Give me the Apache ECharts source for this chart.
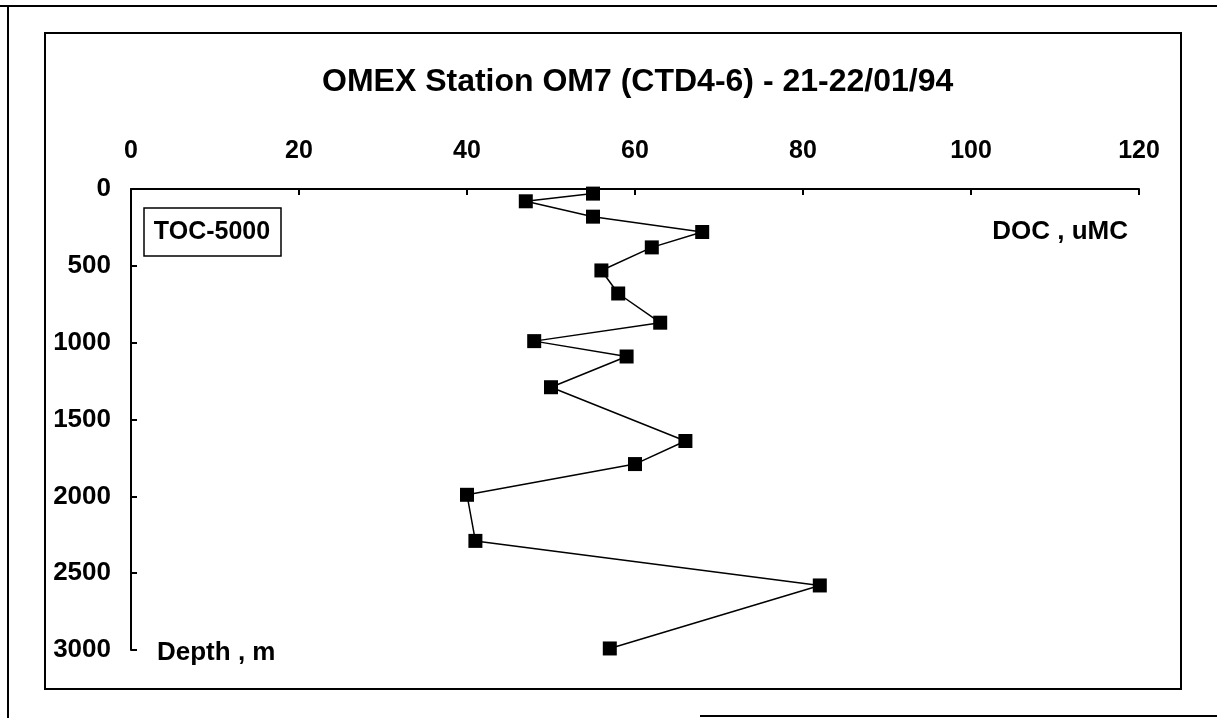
<!DOCTYPE html>
<html>
<head>
<meta charset="utf-8">
<script src="https://cdn.jsdelivr.net/npm/echarts@6/dist/echarts.min.js"></script>
<style>html,body{margin:0;padding:0;background:#fff;}#chart{width:1217px;height:718px;}</style>
</head>
<body>
<div id="chart"></div>
<script>
const titleText = 'OMEX Station OM7 (CTD4-6) - 21-22/01/94';
const docValues = [55, 47, 55, 68, 62, 56, 58, 63, 48, 59, 50, 66, 60, 40, 41, 82, 57];
const depthValues = [30, 80, 180, 280, 380, 530, 680, 870, 990, 1090, 1290, 1640, 1790, 1990, 2290, 2580, 2990];
const xTicks = [0, 20, 40, 60, 80, 100, 120];
const yTicks = [0, 500, 1000, 1500, 2000, 2500, 3000];
const xName = 'DOC , uMC';
const yName = 'Depth , m';
const boxLabel = 'TOC-5000';

const FONT = '"Liberation Sans", Arial, sans-serif';
const chart = echarts.init(document.getElementById('chart'));
const points = docValues.map((v, i) => [v, depthValues[i]]);

chart.setOption({
  backgroundColor: '#fff',
  animation: false,
  title: {
    text: titleText, left: 322, top: 66, padding: 0,
    textStyle: { fontFamily: FONT, fontWeight: 'bold', fontSize: 32, color: '#000' }
  },
  grid: { left: 131, top: 189, right: 78, bottom: 68, containLabel: false },
  xAxis: {
    type: 'value', position: 'top', min: xTicks[0], max: xTicks[xTicks.length - 1], interval: 20,
    axisLine: { show: true, lineStyle: { color: '#000', width: 2 } },
    axisTick: { show: true, inside: true, length: 6, lineStyle: { color: '#000', width: 2 } },
    axisLabel: { margin: 25, fontFamily: FONT, fontWeight: 'bold', fontSize: 25, color: '#000', formatter: v => String(v) },
    splitLine: { show: false }
  },
  yAxis: {
    type: 'value', inverse: true, min: yTicks[0], max: yTicks[yTicks.length - 1], interval: 500,
    axisLine: { show: true, lineStyle: { color: '#000', width: 2 } },
    axisTick: { show: true, inside: true, length: 6, lineStyle: { color: '#000', width: 2 } },
    axisLabel: { margin: 20, fontFamily: FONT, fontWeight: 'bold', fontSize: 26, color: '#000', formatter: v => String(v) },
    splitLine: { show: false }
  },
  series: [{
    type: 'line', data: points, symbol: 'rect', symbolSize: 14,
    lineStyle: { color: '#000', width: 1.5 },
    itemStyle: { color: '#000' }
  }],
  graphic: [
    { type: 'line', shape: { x1: 0, y1: 6, x2: 1217, y2: 6 }, style: { stroke: '#000', lineWidth: 2 } },
    { type: 'line', shape: { x1: 8, y1: 6, x2: 8, y2: 718 }, style: { stroke: '#000', lineWidth: 2 } },
    { type: 'line', shape: { x1: 700, y1: 716, x2: 1217, y2: 716 }, style: { stroke: '#000', lineWidth: 2 } },
    { type: 'rect', shape: { x: 45, y: 33, width: 1136, height: 656 }, style: { fill: 'none', stroke: '#000', lineWidth: 2 } },
    { type: 'rect', shape: { x: 144, y: 208, width: 137, height: 48 }, style: { fill: '#fff', stroke: '#000', lineWidth: 1.5 } },
    { type: 'text', x: 212, y: 232, style: { text: boxLabel, font: 'bold 25px ' + FONT, fill: '#000', textAlign: 'center', textVerticalAlign: 'middle' } },
    { type: 'text', x: 1128, y: 232, style: { text: xName, font: 'bold 26px ' + FONT, fill: '#000', textAlign: 'right', textVerticalAlign: 'middle' } },
    { type: 'text', x: 157, y: 653, style: { text: yName, font: 'bold 26px ' + FONT, fill: '#000', textAlign: 'left', textVerticalAlign: 'middle' } }
  ]
});
</script>
</body>
</html>
